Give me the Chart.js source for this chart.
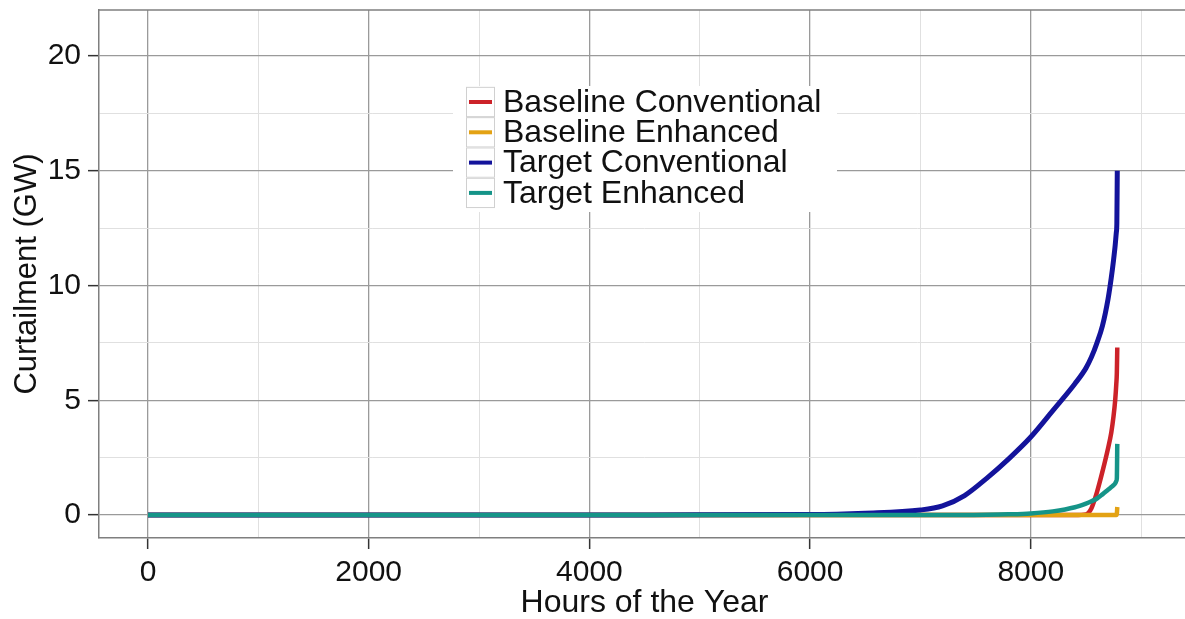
<!DOCTYPE html>
<html>
<head>
<meta charset="utf-8">
<title>Curtailment by hour</title>
<script src="https://cdn.jsdelivr.net/npm/chart.js@4.4.1/dist/chart.umd.min.js"></script>
<style>
    html, body { margin: 0; padding: 0; overflow: hidden; background: #fff; }
    #wrap { width: 1195px; height: 619px; }
</style>
</head>
<body>
<div id="wrap"><canvas id="chart" width="1195" height="619"></canvas></div>
<script>
// Hours of the year (sorted duration-curve order) and curtailment in GW
const hours = [0, 1000, 2000, 3000, 4000, 5000, 6000, 6500, 7000, 7200, 7400, 7600, 7800, 8000,
    8200, 8400, 8500, 8550, 8600, 8650, 8700, 8730, 8750, 8765, 8775, 8780, 8784];

const baselineConventional = [0, 0, 0, 0, 0, 0, 0, 0, 0, 0, 0, 0, 0, 0,
    0, 0, 0.03, 0.3, 1.0, 1.9, 2.9, 3.6, 4.3, 5.0, 5.7, 6.2, 7.3];
const baselineEnhanced = [0, 0, 0, 0, 0, 0, 0, 0, 0, 0, 0, 0, 0, 0,
    0, 0, 0, 0, 0, 0, 0, 0, 0, 0, 0, 0.05, 0.35];
const targetConventional = [0, 0, 0, 0, 0, 0.01, 0.02, 0.08, 0.22, 0.4, 0.85, 1.6, 2.45, 3.4,
    4.55, 5.72, 6.4, 6.88, 7.5, 8.25, 9.4, 10.35, 11.1, 11.75, 12.3, 12.7, 15.0];
const targetEnhanced = [0, 0, 0, 0, 0, 0, 0, 0, 0, 0, 0, 0.01, 0.03, 0.07,
    0.16, 0.34, 0.5, 0.6, 0.72, 0.9, 1.1, 1.22, 1.3, 1.38, 1.48, 1.6, 3.1];

const seriesNames = ['Baseline Conventional', 'Baseline Enhanced', 'Target Conventional', 'Target Enhanced'];

// Axis ticks: labelled majors plus unlabelled minor grid lines
const xMajor = [0, 2000, 4000, 6000, 8000];
const xMinor = [1000, 3000, 5000, 7000, 9000];
const yMajor = [0, 5, 10, 15, 20];
const yMinor = [2.5, 7.5, 12.5, 17.5];

const colors = ['#cc2229', '#e3a214', '#13139b', '#159488'];
const FONT = "'Liberation Sans', Arial, sans-serif";

function toPoints(values) {
    return values.map((v, i) => ({ x: hours[i], y: v }));
}

function tickSet(major, minor) {
    return major.concat(minor).sort((a, b) => a - b).map(v => ({ value: v }));
}

// ggplot-like panel: top border and legend box inside the plot
const panelExtras = {
    id: 'panelExtras',
    beforeDatasetsDraw(chart) {
        const { ctx, chartArea } = chart;
        ctx.save();
        ctx.strokeStyle = '#7f7f7f';
        ctx.lineWidth = 1.5;
        ctx.beginPath();
        ctx.moveTo(chartArea.left, chartArea.top);
        ctx.lineTo(chartArea.right, chartArea.top);
        ctx.stroke();
        ctx.restore();
    },
    afterDatasetsDraw(chart) {
        const { ctx } = chart;
        const x0 = 453, y0 = 86, rowH = 30.3;
        ctx.save();
        ctx.fillStyle = '#ffffff';
        ctx.fillRect(x0, y0, 384, 126);
        ctx.font = '32px ' + FONT;
        ctx.textBaseline = 'middle';
        seriesNames.forEach((name, i) => {
            const cy = y0 + 16 + i * rowH;
            ctx.fillStyle = '#fff';
            ctx.strokeStyle = '#d0d0d0';
            ctx.lineWidth = 1;
            ctx.fillRect(466, cy - rowH / 2, 29, rowH);
            ctx.strokeRect(466.5, cy - rowH / 2 + 0.5, 28, rowH - 1);
            ctx.strokeStyle = colors[i];
            ctx.lineWidth = 4;
            ctx.beginPath();
            ctx.moveTo(469, cy);
            ctx.lineTo(492, cy);
            ctx.stroke();
            ctx.fillStyle = '#111';
            ctx.fillText(name, 503, cy + 1);
        });
        ctx.restore();
    }
};

const seriesValues = [baselineConventional, baselineEnhanced, targetConventional, targetEnhanced];

const datasets = seriesValues.map((values, i) => ({
    label: seriesNames[i],
    data: toPoints(values),
    borderColor: colors[i],
    backgroundColor: colors[i],
    borderWidth: i === 2 ? 5 : 4.5,
    pointRadius: 0,
    cubicInterpolationMode: 'monotone',
    fill: false,
    order: 3 - i
}));

new Chart(document.getElementById('chart'), {
    type: 'line',
    data: { datasets: datasets },
    options: {
        responsive: false,
        animation: false,
        devicePixelRatio: 1,
        layout: { padding: { left: 0, top: 10, right: 5, bottom: 0 } },
        plugins: {
            legend: { display: false },
            tooltip: { enabled: false }
        },
        scales: {
            x: {
                type: 'linear',
                min: -444,
                max: 9443,
                afterBuildTicks: scale => { scale.ticks = tickSet(xMajor, xMinor); },
                afterFit: scale => {
                    scale.height = 81;
                    scale.paddingLeft = 0;
                    scale.paddingRight = 0;
                },
                border: { display: true, color: '#7f7f7f', width: 1.5 },
                grid: {
                    color: c => xMajor.includes(c.tick.value) ? '#9a9a9a' : '#e0e0e0',
                    lineWidth: c => xMajor.includes(c.tick.value) ? 1.3 : 1,
                    tickColor: c => xMajor.includes(c.tick.value) ? '#333' : 'rgba(0,0,0,0)',
                    tickLength: 11,
                    tickWidth: 1.5
                },
                ticks: {
                    autoSkip: false,
                    maxRotation: 0,
                    padding: 6,
                    color: '#111',
                    font: { family: FONT, size: 30 },
                    callback: v => xMajor.includes(v) ? String(v) : ''
                },
                title: {
                    display: true,
                    text: 'Hours of the Year',
                    color: '#111',
                    font: { family: FONT, size: 32, lineHeight: 1 },
                    padding: { top: 0, bottom: 0 }
                }
            },
            y: {
                type: 'linear',
                min: -1.0,
                max: 22.0,
                afterBuildTicks: scale => { scale.ticks = tickSet(yMajor, yMinor); },
                afterFit: scale => {
                    scale.width = 99;
                    scale.paddingTop = 0;
                    scale.paddingBottom = 0;
                },
                border: { display: true, color: '#7f7f7f', width: 1.5 },
                grid: {
                    color: c => yMajor.includes(c.tick.value) ? '#9a9a9a' : '#e0e0e0',
                    lineWidth: c => yMajor.includes(c.tick.value) ? 1.3 : 1,
                    tickColor: c => yMajor.includes(c.tick.value) ? '#333' : 'rgba(0,0,0,0)',
                    tickLength: 11,
                    tickWidth: 1.5
                },
                ticks: {
                    autoSkip: false,
                    padding: 7,
                    color: '#111',
                    font: { family: FONT, size: 30 },
                    callback: v => yMajor.includes(v) ? String(v) : ''
                },
                title: {
                    display: true,
                    text: 'Curtailment (GW)',
                    color: '#111',
                    font: { family: FONT, size: 31, lineHeight: 1 },
                    padding: { top: 12, bottom: 0 }
                }
            }
        }
    },
    plugins: [panelExtras]
});
</script>
</body>
</html>
